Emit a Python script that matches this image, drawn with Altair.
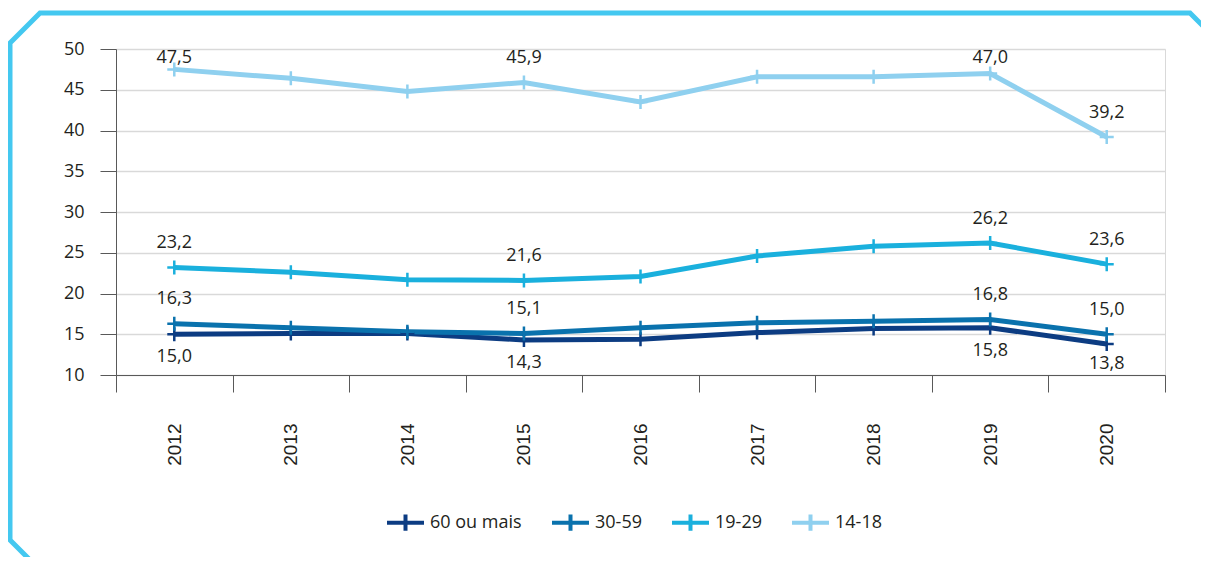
import json
import altair as alt
import pandas as pd

# ---- data ----
YEARS = ["2012", "2013", "2014", "2015", "2016", "2017", "2018", "2019", "2020"]
SERIES = ["60 ou mais", "30-59", "19-29", "14-18"]
V_60 = [15.0, 15.1, 15.1, 14.3, 14.4, 15.2, 15.7, 15.8, 13.8]
V_30 = [16.3, 15.8, 15.3, 15.1, 15.8, 16.4, 16.6, 16.8, 15.0]
V_19 = [23.2, 22.6, 21.7, 21.6, 22.1, 24.6, 25.8, 26.2, 23.6]
V_14 = [47.5, 46.4, 44.8, 45.9, 43.5, 46.6, 46.6, 47.0, 39.2]
LABEL_YEARS = ["2012", "2015", "2019", "2020"]
BELOW_SERIES = ["60 ou mais"]
Y_TICKS = [10, 15, 20, 25, 30, 35, 40, 45, 50]

COLORS = ["#0c3c82", "#0a72ad", "#1ab0dd", "#8fd0ef"]
FRAME_COLOR = "#44c8f0"

rows = []
for s, vals in zip(SERIES, [V_60, V_30, V_19, V_14]):
    for yr, v in zip(YEARS, vals):
        rows.append({"year": yr, "series": s, "value": v})
df = pd.DataFrame(rows)

# decorative frame (pixel coordinates relative to plot origin)
FRAME_X = [-79, -106, -106, -76, 1074, 1099]
FRAME_Y = [518, 491, -6, -36, -36, -11]
frame_df = pd.DataFrame({"fx": FRAME_X, "fy": FRAME_Y, "i": list(range(len(FRAME_X)))})

W, H = 1049, 326
FONT = "Open Sans"
TXT = "#231f20"
AX = "#595959"

CROSS = "M-1,0H1M0,-1V1"
LEG_CROSS = "M-1,0H1M0,-0.44V0.44"

x_enc = alt.X(
    "year:O",
    sort=YEARS,
    bandPosition=0.5,
    scale=alt.Scale(type="band", paddingInner=0, paddingOuter=0),
    axis=alt.Axis(
        title=None, tickBand="extent", labelAngle=270, labelAlign="right",
        labelBaseline="middle", labelFont="Liberation Sans", labelFontSize=19,
        labelColor=TXT, tickSize=17, tickColor=AX, domainColor=AX,
        labelPadding=31, grid=False,
    ),
)
y_enc = alt.Y(
    "value:Q",
    scale=alt.Scale(domain=[10, 50], nice=False, zero=False),
    axis=alt.Axis(
        title=None, values=Y_TICKS, tickSize=16, tickColor=AX, domainColor=AX,
        labelPadding=16, labelFont=FONT, labelFontSize=18, labelColor=TXT,
        grid=True, gridColor="#d9d9d9", gridWidth=1.3,
    ),
)
color_enc = alt.Color(
    "series:N",
    sort=SERIES,
    scale=alt.Scale(domain=SERIES, range=COLORS),
    legend=alt.Legend(
        title=None, orient="none", legendX=269, legendY=453, direction="horizontal",
        symbolType=LEG_CROSS, symbolSize=1369, symbolStrokeWidth=4,
        labelFont=FONT, labelFontSize=18, labelColor=TXT, labelOffset=4,
        columnPadding=22,
    ),
)

base = alt.Chart(df)
lines = base.mark_line(strokeWidth=5).encode(x=x_enc, y=y_enc, color=color_enc)
points = base.mark_point(shape=CROSS, size=196, filled=False, strokeWidth=2.5, opacity=1).encode(
    x=x_enc, y=y_enc, color=color_enc
)

below = json.dumps(BELOW_SERIES)
labels = (
    base.transform_filter(alt.FieldOneOfPredicate(field="year", oneOf=LABEL_YEARS))
    .transform_calculate(
        ly=f"indexof({below}, datum.series) >= 0 ? max(datum.value - 2.8, 11.4) : min(datum.value + 3, 48.9)",
        txt="replace(format(datum.value, '.1f'), '.', ',')",
    )
    .mark_text(font=FONT, fontSize=18, color=TXT, align="center", baseline="middle")
    .encode(x=x_enc, y=alt.Y("ly:Q"), text="txt:N")
)

frame = (
    alt.Chart(frame_df)
    .mark_line(color=FRAME_COLOR, strokeWidth=5, strokeJoin="miter")
    .encode(
        x=alt.X("fx:Q", scale=None, axis=None),
        y=alt.Y("fy:Q", scale=None, axis=None),
        order="i:Q",
    )
)

chart = (
    alt.layer(frame, lines, points, labels)
    .properties(
        width=W, height=H,
        autosize=alt.AutoSizeParams(type="none"),
        padding={"left": 108, "top": 41, "right": 36, "bottom": 182},
    )
    .configure_view(stroke="#d9d9d9", strokeWidth=1)
)

chart.save("out.html", embed_options={"renderer": "svg", "actions": False})
